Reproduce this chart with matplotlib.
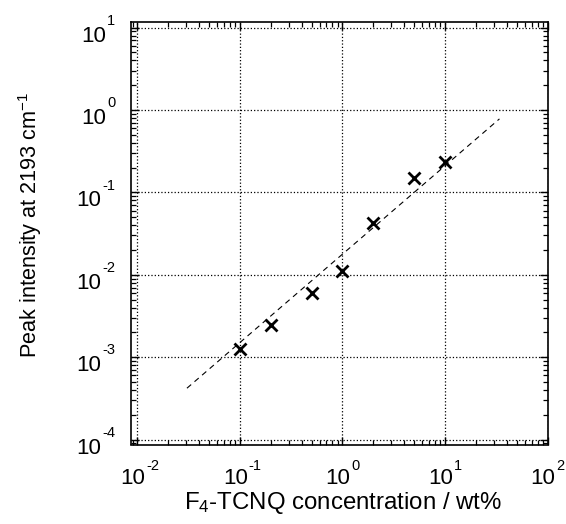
import matplotlib
matplotlib.use("Agg")
import matplotlib.pyplot as plt
import matplotlib.transforms as mtransforms
from matplotlib.ticker import LogLocator, FixedLocator, NullFormatter

plt.rcParams['font.family'] = ['Liberation Sans', 'DejaVu Sans']
plt.rcParams['mathtext.fontset'] = 'custom'
plt.rcParams['mathtext.rm'] = 'Liberation Sans'
plt.rcParams['mathtext.it'] = 'Liberation Sans:italic'
plt.rcParams['mathtext.bf'] = 'Liberation Sans:bold'

# data
conc = [0.1, 0.2, 0.5, 1.0, 2.0, 5.0, 10.0]
intensity = [1.25e-3, 2.44e-3, 6.07e-3, 1.11e-2, 4.29e-2, 0.151, 0.236]
fit_x = [0.0305, 34.0]
fit_y = [4.2e-4, 0.78]
xtick_exps = [-2, -1, 0, 1, 2]
ytick_exps = [-4, -3, -2, -1, 0, 1]

W, H = 566, 524
fig = plt.figure(figsize=(W / 100, H / 100), dpi=100)
ax = fig.add_axes([130.5 / W, 1 - 444.5 / H, 417 / W, 422.5 / H])

ax.set_xscale('log')
ax.set_yscale('log')
ax.set_xlim(10**-2.066, 10**2.0)
ax.set_ylim(10**-4.06, 10**1.068)

ax.plot(fit_x, fit_y, linestyle=(0, (5, 4)), color='black', lw=0.8, zorder=3)
ax.plot(conc, intensity, linestyle='none', marker='x', color='black',
        markersize=9, mew=2, zorder=4)

ax.xaxis.set_major_locator(FixedLocator([10.0**e for e in xtick_exps]))
ax.yaxis.set_major_locator(FixedLocator([10.0**e for e in ytick_exps]))
ax.xaxis.set_minor_locator(LogLocator(base=10, subs=range(2, 10), numticks=20))
ax.yaxis.set_minor_locator(LogLocator(base=10, subs=range(2, 10), numticks=20))
ax.xaxis.set_minor_formatter(NullFormatter())
ax.yaxis.set_minor_formatter(NullFormatter())

ax.grid(True, which='major', linestyle=':', color='black', lw=0.9)
ax.tick_params(which='both', direction='in', top=True, right=True, colors='black',
               labelbottom=False, labelleft=False)
ax.tick_params(which='major', length=6, width=1.0)
ax.tick_params(which='minor', length=3.5, width=0.9)
for s in ax.spines.values():
    s.set_linewidth(1.2)

BASE = 16
EXP = 10.5

# x tick labels: "10" + raised exponent
xtr = mtransforms.blended_transform_factory(ax.transData, ax.transAxes)
for e in xtick_exps:
    xv = 10.0**e
    t1 = mtransforms.offset_copy(xtr, fig=fig, x=8, y=-40, units='dots')
    ax.text(xv, 0, '10', transform=t1, ha='right', va='baseline', fontsize=BASE)
    t2 = mtransforms.offset_copy(xtr, fig=fig, x=9, y=-25, units='dots')
    ax.text(xv, 0, str(e), transform=t2, ha='left', va='baseline', fontsize=EXP)

# y tick labels
fig.canvas.draw()
renderer = fig.canvas.get_renderer()
ytr = mtransforms.blended_transform_factory(ax.transAxes, ax.transData)
for e in ytick_exps:
    yv = 10.0**e
    t2 = mtransforms.offset_copy(ytr, fig=fig, x=-15, y=2.7, units='dots')
    te = ax.text(0, yv, str(e), transform=t2, ha='right', va='baseline', fontsize=EXP)
    w = te.get_window_extent(renderer).width
    t1 = mtransforms.offset_copy(ytr, fig=fig, x=-15 - w - 1, y=-14, units='dots')
    ax.text(0, yv, '10', transform=t1, ha='right', va='baseline', fontsize=BASE)

fig.text(343 / W, 1 - 503 / H, 'F$_4$-TCNQ concentration / wt%', fontsize=17.3,
         ha='center', va='center')
fig.text(30 / W, 1 - 225 / H, 'Peak intensity at 2193 cm$^{-1}$', fontsize=15.6,
         ha='center', va='center', rotation=90)

fig.savefig('out.png', dpi=100)
